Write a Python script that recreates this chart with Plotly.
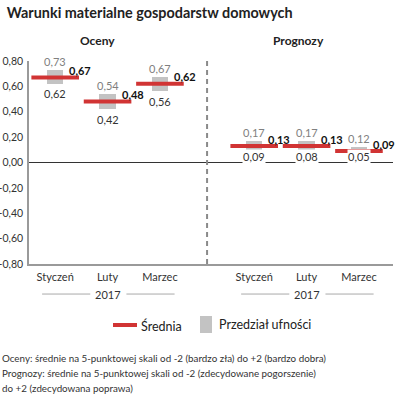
import plotly.graph_objects as go

# ---- data ----
groups = ["Oceny", "Prognozy"]
months = ["Styczeń", "Luty", "Marzec"]
year_label = "2017"
mean_oceny = [0.67, 0.48, 0.62]
upper_oceny = [0.73, 0.54, 0.67]
lower_oceny = [0.62, 0.42, 0.56]
mean_prog = [0.13, 0.13, 0.09]
upper_prog = [0.17, 0.17, 0.12]
lower_prog = [0.09, 0.08, 0.05]
y_ticks = [-0.8, -0.6, -0.4, -0.2, 0.0, 0.2, 0.4, 0.6, 0.8]
title = "Warunki materialne gospodarstw domowych"
legend_mean = "Średnia"
legend_ci = "Przedział ufności"
notes = ["Oceny: średnie na 5-punktowej skali od -2 (bardzo zła) do +2 (bardzo dobra)",
         "Prognozy: średnie na 5-punktowej skali od -2 (zdecydowane pogorszenie)",
         "do +2 (zdecydowana poprawa)"]

FONT = "Lato"
RED = "#d13434"
GRAY = "#c3c3c3"
W, H = 400, 399
ML, MR, MT, MB = 29, 7, 61, 135
GROUP_STEP = 3.8
YMIN, YMAX = -0.8, 0.8
px_per_unit = (H - MT - MB) / (YMAX - YMIN)

def fmt(v):
    return f"{v:.2f}".replace(".", ",")

means = [mean_oceny, mean_prog]
uppers = [upper_oceny, upper_prog]
lowers = [lower_oceny, lower_prog]

fig = go.Figure()
xs_all, lo_all, hi_all, mean_all = [], [], [], []
for g in range(len(groups)):
    for i in range(len(months)):
        xs_all.append(g * GROUP_STEP + i)
        lo_all.append(lowers[g][i])
        hi_all.append(uppers[g][i])
        mean_all.append(means[g][i])

fig.add_trace(go.Bar(
    x=xs_all, y=[h - l for h, l in zip(hi_all, lo_all)], base=lo_all,
    width=0.31, marker=dict(color=GRAY, line=dict(width=0)),
    showlegend=False, hoverinfo="skip"))
fig.add_trace(go.Scatter(
    x=xs_all, y=mean_all, mode="markers",
    marker=dict(symbol="line-ew", size=34, line=dict(width=4, color=RED)),
    showlegend=False, hoverinfo="skip"))

ann = []
for x, lo, hi, m in zip(xs_all, lo_all, hi_all, mean_all):
    ann.append(dict(x=x, y=hi, xref="x", yref="y", text=fmt(hi), showarrow=False,
                    yanchor="bottom", yshift=0,
                    font=dict(family=FONT, size=11, color="#808080")))
    lo_px = lo * px_per_unit
    shift = min(10, lo_px - 6) if lo_px > 0 else 10
    ann.append(dict(x=x, y=lo, xref="x", yref="y", text=fmt(lo), showarrow=False,
                    yanchor="middle", yshift=-shift, bgcolor="white", borderpad=0,
                    font=dict(family=FONT, size=11, color="#333333")))
    ann.append(dict(x=x, y=m, xref="x", yref="y", text="<b>" + fmt(m) + "</b>",
                    showarrow=False, xanchor="left", xshift=12, yanchor="middle", yshift=7,
                    font=dict(family=FONT, size=11, color="#111111")))

shapes = []
# divider
div_x = 2 + (GROUP_STEP - 2) / 2
shapes.append(dict(type="line", xref="x", yref="y", x0=div_x, x1=div_x, y0=YMIN, y1=YMAX,
                   line=dict(color="#8a8a8a", width=2, dash="5px,4px")))
# group headers and year labels
header_x = [0.8, GROUP_STEP + 0.85]
for g in range(len(groups)):
    c = g * GROUP_STEP + 1
    ann.append(dict(x=header_x[g], y=1.103, xref="x", yref="paper", text="<b>" + groups[g] + "</b>",
                    showarrow=False, yanchor="middle",
                    font=dict(family=FONT, size=12, color="#222222")))
    ann.append(dict(x=c, y=-0.148, xref="x", yref="paper", text=year_label, showarrow=False,
                    yanchor="middle",
                    font=dict(family=FONT, size=11, color="#333333")))
    for a, b in [(-1.25, -0.33), (0.36, 1.28)]:
        shapes.append(dict(type="line", xref="x", yref="paper", x0=c + a, x1=c + b,
                           y0=-0.148, y1=-0.148, line=dict(color="#aaaaaa", width=1)))

def px2x(p):
    return (p - ML) / (W - ML - MR)

def px2y(p):
    return (H - MB - p) / (H - MT - MB)

# manual legend
shapes.append(dict(type="rect", xref="paper", yref="paper", x0=px2x(113), x1=px2x(137),
                   y0=px2y(327), y1=px2y(323), fillcolor=RED, line=dict(width=0)))
shapes.append(dict(type="rect", xref="paper", yref="paper", x0=px2x(200), x1=px2x(212),
                   y0=px2y(333), y1=px2y(316), fillcolor=GRAY, line=dict(width=0)))
ann.append(dict(x=px2x(139), y=px2y(326), xref="paper", yref="paper", text=legend_mean,
                showarrow=False, xanchor="left", yanchor="middle",
                font=dict(family=FONT, size=12.5, color="#222222")))
ann.append(dict(x=px2x(217), y=px2y(324), xref="paper", yref="paper", text=legend_ci,
                showarrow=False, xanchor="left", yanchor="middle",
                font=dict(family=FONT, size=12.5, color="#222222")))
# notes
for k, line in enumerate(notes):
    ann.append(dict(x=px2x(0), y=px2y(358 + 15 * k), xref="paper", yref="paper", text=line,
                    showarrow=False, xanchor="left", yanchor="middle", align="left",
                    font=dict(family=FONT, size=9.8, color="#333333")))

xtick_vals = [g * GROUP_STEP + i for g in range(len(groups)) for i in range(len(months))]
xtick_text = months * len(groups)

fig.update_layout(
    width=W, height=H, margin=dict(l=ML, r=MR, t=MT, b=MB, autoexpand=False),
    paper_bgcolor="white", plot_bgcolor="white",
    title=dict(text="<b>" + title + "</b>", x=0.017, xanchor="left", y=0.967, yanchor="middle",
               font=dict(family=FONT, size=14.4, color="#222222"), automargin=False),
    xaxis=dict(range=[-0.5, 6.45], tickvals=xtick_vals, ticktext=xtick_text, automargin=False,
               showgrid=False, zeroline=False, showline=True, linecolor="#9a9a9a", linewidth=1.5,
               ticks="", ticklabelstandoff=2, fixedrange=True,
               tickfont=dict(family=FONT, size=11, color="#333333")),
    yaxis=dict(range=[YMIN, YMAX], tickvals=y_ticks, ticktext=[fmt(v) for v in y_ticks],
               automargin=False,
               showgrid=False, zeroline=True, zerolinecolor="#333333", zerolinewidth=1,
               showline=True, linecolor="#9a9a9a", linewidth=1.5, ticks="",
               ticklabelstandoff=2, fixedrange=True,
               tickfont=dict(family=FONT, size=10.5, color="#333333")),
    annotations=ann, shapes=shapes, bargap=0, showlegend=False,
)

fig.write_html("out.html", config={"displayModeBar": False},
               post_script="document.body.style.margin='0';document.body.style.padding='0';")
